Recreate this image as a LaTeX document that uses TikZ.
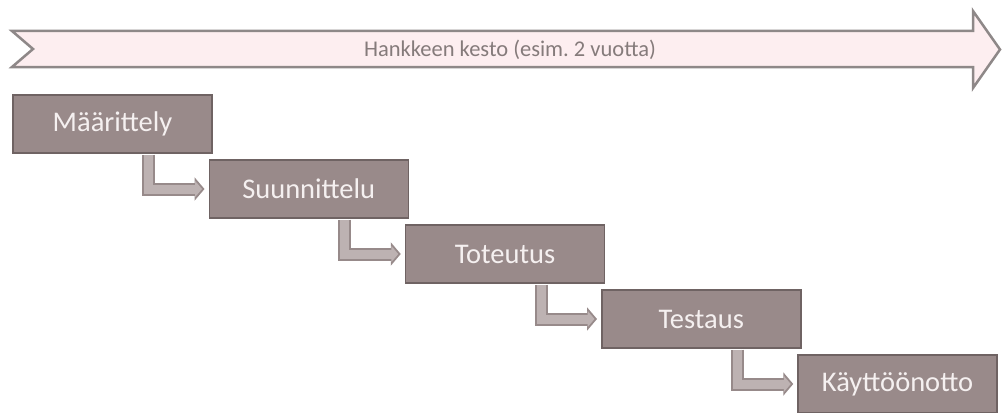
\documentclass[tikz,border=0pt]{standalone}
\usepackage{fontspec}
\setmainfont{Carlito}
\usetikzlibrary{arrows.meta}
\definecolor{boxfill}{HTML}{998A8A}
\definecolor{boxline}{HTML}{6F6363}
\definecolor{boxtext}{HTML}{F5F0F0}
\definecolor{bannerfill}{HTML}{FDEEF0}
\definecolor{bannerline}{HTML}{8E8888}
\definecolor{bannertext}{HTML}{857B7B}
\definecolor{connout}{HTML}{978A8A}
\definecolor{connin}{HTML}{BDB2B2}
\begin{document}
\begin{tikzpicture}[x=1pt,y=-1pt,
  phase/.style={draw=boxline, line width=1.5pt, fill=boxfill, text=boxtext,
    minimum width=199pt, minimum height=58pt, inner sep=0pt,
    font=\fontsize{28.5}{34}\selectfont},
  connouter/.style={draw=connout, line width=13pt, shorten >=4pt,
    -{Triangle[length=10pt,width=23pt]}},
  conninner/.style={draw=connin, line width=9pt, shorten >=6.5pt,
    -{Triangle[length=7pt,width=16pt]}},
  bannerstyle/.style={draw=bannerline, line width=2.5pt, fill=bannerfill, line join=miter},
  bannerlabel/.style={text=bannertext, font=\fontsize{22.5}{27}\selectfont, inner sep=0pt}
]
\useasboundingbox (0,0) rectangle (1003,412);
% banner
\draw[bannerstyle] (12,31) -- (973,31) -- (973,11) -- (1000,49.5) -- (973,88)
  -- (973,67) -- (12,67) -- (33,49) -- cycle;
\node[bannerlabel] (banner) at (510,50) {Hankkeen kesto (esim.\ 2 vuotta)};
% phases
\node[phase] (b1) at (112.5,124) {Määrittely};
\node[phase] (b2) at (308.75,189) {Suunnittelu};
\node[phase] (b3) at (505,254) {Toteutus};
\node[phase] (b4) at (701.25,319) {Testaus};
\node[phase] (b5) at (897.5,384) {Käyttöönotto};
% connectors
\foreach \a/\b in {b1/b2,b2/b3,b3/b4,b4/b5}{
  \draw[connouter] ([xshift=36pt,yshift=-0.8pt]\a.south) |- (\b.west);
  \draw[conninner] ([xshift=36pt,yshift=-0.8pt]\a.south) |- (\b.west);
}
\end{tikzpicture}
\end{document}
